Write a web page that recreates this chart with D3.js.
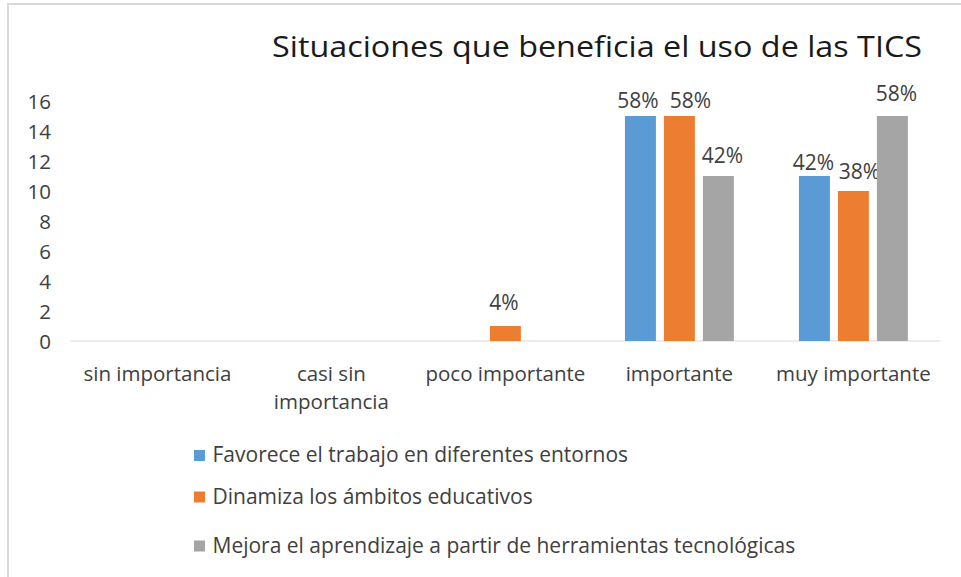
<!DOCTYPE html>
<html><head><meta charset="utf-8">
<script src="https://cdn.jsdelivr.net/npm/d3@7"></script>
<style>body{margin:0;background:#fff}svg{display:block}</style>
</head><body>
<script>
const title = "Situaciones que beneficia el uso de las TICS";
const categories = ["sin importancia", "casi sin importancia", "poco importante", "importante", "muy importante"];
const categoryLines = [["sin importancia"], ["casi sin", "importancia"], ["poco importante"], ["importante"], ["muy importante"]];
const seriesNames = ["Favorece el trabajo en diferentes entornos", "Dinamiza los ámbitos educativos", "Mejora el aprendizaje a partir de herramientas tecnológicas"];
const favoreceValues = [0, 0, 0, 15, 11];
const dinamizaValues = [0, 0, 1, 15, 10];
const mejoraValues = [0, 0, 0, 11, 15];
const favoreceLabels = ["", "", "", "58%", "42%"];
const dinamizaLabels = ["", "", "4%", "58%", "38%"];
const mejoraLabels = ["", "", "", "42%", "58%"];
const yTicks = [0, 2, 4, 6, 8, 10, 12, 14, 16];
const colors = ["#5B9BD5", "#ED7D31", "#A5A5A5"];

// layout-only: manual label nudges (dx, gap above bar) as in the original
const labelNudgeX = [[0, 0, 0, -2.5, -1], [0, 0, -1.5, 11, 6], [0, 0, 0, 4, 4]];
const labelGap = [[8, 8, 8, 8, 6], [8, 8, 16, 8, 12], [8, 8, 8, 13, 15]];

const series = [
  {name: seriesNames[0], values: favoreceValues, labels: favoreceLabels},
  {name: seriesNames[1], values: dinamizaValues, labels: dinamizaLabels},
  {name: seriesNames[2], values: mejoraValues, labels: mejoraLabels}
];

const W = 961, H = 577;
const FONT = "'Open Sans', sans-serif";
const FS = 20.5;
const TXT = "#404040";
const svg = d3.select("body").append("svg").attr("width", W).attr("height", H)
  .style("font-family", FONT);

svg.append("path").attr("d", `M8,${H} L8,4 L${W},4`).attr("fill", "none")
  .attr("stroke", "#d9d9d9").attr("stroke-width", 2);

const x0 = d3.scaleBand().domain(categories).range([70.4, 940.4]).paddingInner(0).paddingOuter(0);
const y = d3.scaleLinear().domain([0, 16]).range([341, 101]);
const bw = x0.bandwidth();
const barW = bw * 0.178, gap = bw * 0.046;
const groupW = barW * 3 + gap * 2;
const x1 = d3.scaleBand().domain([0, 1, 2]).range([0, groupW]).paddingInner(gap / (barW + gap)).paddingOuter(0);

svg.append("text").attr("x", 272).attr("y", 57)
  .attr("font-size", 29).attr("fill", "#1a1a1a")
  .attr("textLength", 650).attr("lengthAdjust", "spacingAndGlyphs").text(title);

const yAxis = d3.axisLeft(y).tickValues(yTicks).tickSize(0).tickPadding(0);
const gy = svg.append("g").attr("transform", "translate(51,0)").call(yAxis);
gy.select(".domain").remove();
gy.selectAll("text").attr("font-size", FS).attr("fill", TXT).attr("dy", "0.37em").style("font-family", FONT);

svg.append("line").attr("x1", x0.range()[0]).attr("x2", x0.range()[1])
  .attr("y1", y(0)).attr("y2", y(0)).attr("stroke", "#d9d9d9").attr("stroke-width", 1);

const groups = svg.append("g").selectAll("g").data(categories).join("g")
  .attr("transform", c => `translate(${x0(c) + (bw - groupW) / 2},0)`);
groups.each(function(c, ci) {
  const g = d3.select(this);
  series.forEach((s, si) => {
    const v = s.values[ci];
    if (v > 0) {
      g.append("rect").attr("x", x1(si)).attr("width", x1.bandwidth())
        .attr("y", y(v)).attr("height", y(0) - y(v)).attr("fill", colors[si]);
    }
    if (s.labels[ci]) {
      g.append("text").attr("x", x1(si) + x1.bandwidth() / 2 + labelNudgeX[si][ci])
        .attr("y", y(v) - labelGap[si][ci])
        .attr("text-anchor", "middle").attr("font-size", 21).attr("fill", TXT)
        .text(s.labels[ci]);
    }
  });
});

categories.forEach((c, i) => {
  const cx = x0(c) + bw / 2;
  const t = svg.append("text").attr("text-anchor", "middle").attr("font-size", FS)
    .attr("fill", TXT);
  categoryLines[i].forEach((ln, li) => {
    t.append("tspan").attr("x", cx).attr("y", 381 + li * 28).text(ln);
  });
});

const legendY = [455.5, 497, 546];
series.forEach((s, i) => {
  const ly = legendY[i];
  svg.append("rect").attr("x", 194).attr("y", ly - 5.5).attr("width", 11).attr("height", 11).attr("fill", colors[i]);
  svg.append("text").attr("x", 212.5).attr("y", ly + 6.5).attr("font-size", 21)
    .attr("fill", TXT).text(s.name);
});
</script>
</body></html>
